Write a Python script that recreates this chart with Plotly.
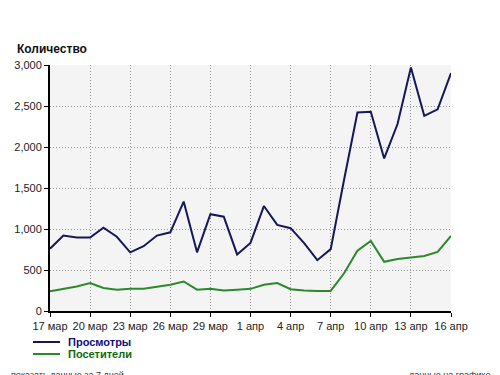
import plotly.graph_objects as go

dates = ["17 мар", "18 мар", "19 мар", "20 мар", "21 мар", "22 мар", "23 мар", "24 мар",
         "25 мар", "26 мар", "27 мар", "28 мар", "29 мар", "30 мар", "31 мар",
         "1 апр", "2 апр", "3 апр", "4 апр", "5 апр", "6 апр", "7 апр", "8 апр",
         "9 апр", "10 апр", "11 апр", "12 апр", "13 апр", "14 апр", "15 апр", "16 апр"]
views = [760, 920, 895, 895, 1015, 905, 715, 790, 920, 960, 1335, 715, 1180, 1150, 690,
         830, 1280, 1050, 1010, 830, 620, 755, 1600, 2420, 2430, 1860, 2280, 2970, 2380, 2460, 2900]
visitors = [240, 270, 300, 340, 280, 260, 270, 270, 295, 320, 360, 260, 270, 250, 260,
            270, 320, 340, 265, 250, 245, 245, 460, 735, 855, 600, 635, 650, 670, 720, 915]
tick_dates = dates[::3]
y_ticks = [0, 500, 1000, 1500, 2000, 2500, 3000]
y_labels = ["0", "500", "1,000", "1,500", "2,000", "2,500", "3,000"]

series_names = ["Просмотры", "Посетители"]
line_colors = ["#16165c", "#2a8a2a"]
text_colors = ["#10107a", "#0a6a0a"]
footer_texts = ["показать данные за 7 дней", "данные на графике"]

FONT = "Liberation Sans, Arial, sans-serif"

# page has an 8px body margin, so layout is offset by 8px
L, T, R, B = 42, 57, 57, 72
PW = 500 - L - R
PH = 375 - T - B

fig = go.Figure()
for name, vals, col in zip(series_names, [views, visitors], line_colors):
    fig.add_trace(go.Scatter(x=dates, y=vals, mode="lines", name=name,
                             line=dict(color=col, width=2), showlegend=False))

fig.update_layout(
    width=500, height=375,
    margin=dict(l=L, r=R, t=T, b=B, autoexpand=False),
    paper_bgcolor="white", plot_bgcolor="#f4f4f4",
    font=dict(family=FONT, size=11, color="#222"),
    xaxis=dict(type="category", categoryorder="array", categoryarray=dates,
               range=[0, len(dates) - 1], tickvals=tick_dates, ticktext=tick_dates,
               tickangle=0, automargin=False,
               showgrid=True, gridcolor="#9a9a9a", griddash="1px,2px", gridwidth=1,
               showline=True, linecolor="black", linewidth=2,
               ticks="outside", ticklen=4, tickcolor="black", tickwidth=1,
               tickfont=dict(size=11, color="#222"), zeroline=False),
    yaxis=dict(range=[0, 3000], tickvals=y_ticks, ticktext=y_labels, automargin=False,
               showgrid=True, gridcolor="#9a9a9a", griddash="1px,2px", gridwidth=1,
               showline=True, linecolor="black", linewidth=2,
               ticks="outside", ticklen=4, tickcolor="black", tickwidth=1,
               tickfont=dict(size=11, color="#222"), zeroline=False),
)

fig.add_annotation(text="<b>Количество</b>", xref="paper", yref="paper",
                   x=(7 - L) / PW, y=1.0, xanchor="left", yanchor="middle", yshift=16,
                   showarrow=False, font=dict(family=FONT, size=12, color="#111"))

# custom legend
legend_y = [334, 346]
for name, col, tcol, py in zip(series_names, line_colors, text_colors, legend_y):
    yp = (T + PH - py) / PH
    fig.add_shape(type="line", xref="paper", yref="paper",
                  x0=(25 - L) / PW, x1=(52 - L) / PW, y0=yp, y1=yp,
                  line=dict(color=col, width=2))
    fig.add_annotation(text="<b>" + name + "</b>", xref="paper", yref="paper",
                       x=(59 - L) / PW, y=yp, xanchor="left", yanchor="middle",
                       showarrow=False, borderpad=0,
                       font=dict(family=FONT, size=11, color=tcol))

# footer links (cut off at the bottom edge of the view, as in the original)
footer_x = [2, 400]
for txt, fx in zip(footer_texts, footer_x):
    fig.add_annotation(text=txt, xref="paper", yref="paper",
                       x=(fx - L) / PW, y=(T + PH - 361) / PH,
                       xanchor="left", yanchor="top", showarrow=False, borderpad=0,
                       font=dict(family=FONT, size=9, color="#333"))

fig.write_html("out.html")
